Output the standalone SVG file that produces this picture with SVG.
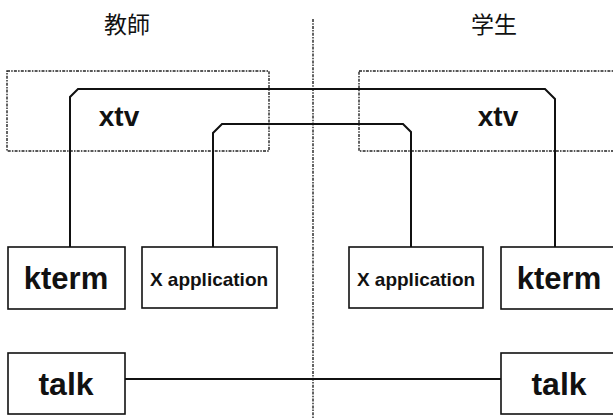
<svg xmlns="http://www.w3.org/2000/svg" width="613" height="419" viewBox="0 0 613 419">
  <style>
    .box { fill: #fff; stroke: #111; stroke-width: 1.6; }
    .zone { fill: none; stroke: #222; stroke-width: 1.4; stroke-dasharray: 3 1.2 1.5 1.2; }
    .wire { fill: none; stroke: #111; stroke-width: 2; }
    .lbl { font-family: "Liberation Sans", Arial, sans-serif; font-weight: bold; fill: #111; text-anchor: middle; }
    .title { font-family: "Noto Sans CJK SC", "Noto Sans CJK JP", sans-serif; font-size: 23px; fill: #111; text-anchor: middle; }
  </style>

  <rect width="613" height="419" fill="#fff"/>

  <!-- divider between the two machines -->
  <line class="zone" x1="313" y1="19" x2="313" y2="419"/>

  <!-- column headings -->
  <text class="title" x="127" y="33">教師</text>
  <text class="title" x="494" y="33">学生</text>

  <!-- xtv regions -->
  <g id="xtv-teacher">
    <rect class="zone" x="7" y="71" width="262" height="80"/>
    <text class="lbl" x="119" y="126" font-size="28">xtv</text>
  </g>
  <g id="xtv-student">
    <rect class="zone" x="359" y="71" width="260" height="80"/>
    <text class="lbl" x="498" y="126" font-size="28">xtv</text>
  </g>

  <!-- connectors -->
  <g id="connectors">
    <path class="wire" d="M70,247 V97 L78,89 H545 L555,99 V247"/>
    <path class="wire" d="M213,247 V133 L222,124 H403 L411,132 V247"/>
    <line class="wire" x1="125" y1="379" x2="501" y2="379" stroke-width="1.6"/>
  </g>

  <!-- teacher side -->
  <g id="kterm-teacher">
    <rect class="box" x="8" y="247" width="117" height="62"/>
    <text class="lbl" x="66" y="289" font-size="31">kterm</text>
  </g>
  <g id="xapp-teacher">
    <rect class="box" x="142" y="247" width="135" height="61"/>
    <text class="lbl" x="209" y="286" font-size="19">X application</text>
  </g>
  <g id="talk-teacher">
    <rect class="box" x="8" y="353" width="117" height="61"/>
    <text class="lbl" x="66" y="395" font-size="32">talk</text>
  </g>

  <!-- student side -->
  <g id="xapp-student">
    <rect class="box" x="349" y="247" width="134" height="61"/>
    <text class="lbl" x="416" y="286" font-size="19">X application</text>
  </g>
  <g id="kterm-student">
    <rect class="box" x="501" y="247" width="117" height="62"/>
    <text class="lbl" x="559" y="289" font-size="31">kterm</text>
  </g>
  <g id="talk-student">
    <rect class="box" x="501" y="353" width="117" height="61"/>
    <text class="lbl" x="559" y="395" font-size="32">talk</text>
  </g>
</svg>
